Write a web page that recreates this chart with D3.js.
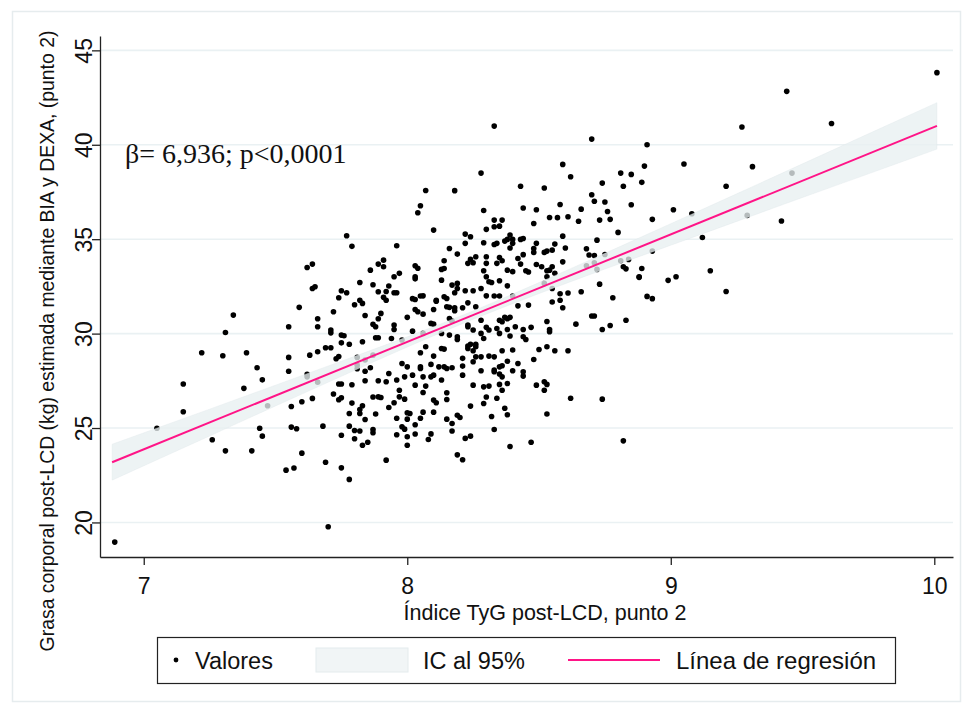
<!DOCTYPE html>
<html>
<head>
<meta charset="utf-8">
<script src="https://cdn.jsdelivr.net/npm/d3@7"></script>
<style>
  body { margin: 0; background: #fff; }
  text { font-family: "Liberation Sans", Arial, sans-serif; fill: #111; }
</style>
</head>
<body>
<div id="chart"></div>
<script>
var svgWidth = 964;
var svgHeight = 709;

var margin = { top: 36, right: 11, bottom: 152, left: 100 };
var width = svgWidth - margin.left - margin.right;
var height = svgHeight - margin.top - margin.bottom;

// axis ticks
var xTicks = [7, 8, 9, 10];
var yTicks = [20, 25, 30, 35, 40, 45];

// observed values [TyG, grasa corporal]
var valores = [
  [8.33,40.99],[8.70,40.30],[8.91,40.00],[8.59,38.96],[8.62,38.31],[8.28,38.50],[8.81,38.50],[8.85,38.43],[8.90,38.87],
  [8.07,37.58],[8.18,37.57],[8.43,37.80],[8.52,37.71],[8.74,37.97],[8.82,37.80],[8.89,38.01],[8.05,36.77],[8.04,36.40],
  [8.29,36.52],[8.44,36.65],[8.49,36.56],[8.58,36.84],[8.66,36.59],[8.70,37.35],[8.71,37.01],[8.75,36.97],[8.76,36.47],
  [8.85,36.82],[8.54,36.15],[8.57,36.14],[8.61,36.19],[8.33,36.01],[8.36,36.01],[8.65,35.95],[8.73,36.01],[8.77,36.05],[8.93,36.05],
  [10.01,43.82],[9.44,42.83],[9.61,41.13],[9.27,40.94],[9.05,38.98],[9.31,38.84],[9.46,38.50],[9.21,37.80],[9.01,36.56],
  [9.08,36.35],[9.29,36.26],[9.42,35.96],[9.12,35.09],[9.15,33.33],[8.99,32.82],[9.02,33.01],[9.21,32.23],
  [7.77,35.18],[7.79,34.62],[7.62,33.50],[7.64,33.68],[7.89,33.68],[7.86,33.36],[7.82,32.71],[7.87,32.59],[7.64,32.39],
  [7.65,32.48],[7.75,32.27],[7.74,31.90],[7.77,32.16],[7.89,32.22],[7.82,31.77],[7.83,31.60],[7.80,31.53],[7.59,31.39],
  [7.34,30.98],[7.72,31.16],[7.84,30.96],[7.66,30.79],[7.89,30.79],[7.90,31.07],[7.87,30.49],[7.88,30.36],[7.55,30.36],
  [7.66,30.36],[7.71,30.19],[7.71,30.04],[7.75,29.92],[7.76,29.89],[7.31,30.06],[7.88,29.78],[7.89,29.78],[7.83,29.57],
  [7.75,29.51],[7.78,29.44],[7.69,29.25],[7.71,29.25],[7.22,28.99],[7.30,28.83],[7.39,28.99],[7.55,28.74],[7.63,28.86],
  [7.66,29.04],[7.73,28.67],[7.74,28.79],[7.81,28.74],[7.87,28.86],[7.84,28.60],[7.43,28.19],[7.55,28.01],[7.81,28.33],
  [7.81,28.14],[7.86,28.19],[7.84,28.01],[7.45,27.55],[7.62,27.84],[7.62,27.71],[7.66,27.43],[7.15,27.33],[7.38,27.10],
  [7.74,27.33],[7.75,27.33],[7.79,27.29],[7.84,27.50],[7.89,27.50],
  [6.89,18.96],[7.05,24.99],[7.15,25.86],[7.26,24.38],[7.31,23.79],[7.41,23.79],[7.44,24.99],[7.45,24.57],[7.47,26.18],
  [7.56,26.14],[7.60,26.39],[7.64,26.57],[7.56,25.05],[7.58,24.96],[7.54,22.77],[7.57,22.88],[7.60,23.67],[7.69,23.19],
  [7.70,19.77],[7.68,25.10],[7.72,26.80],[7.74,26.50],[7.75,26.60],[7.79,26.32],[7.75,24.62],[7.75,22.89],[7.78,22.28],
  [7.78,25.77],[7.78,25.10],[7.80,24.43],[7.80,24.87],[7.82,24.84],[7.82,25.77],[7.82,25.98],[7.83,26.18],[7.84,25.45],
  [7.87,26.64],[7.88,25.74],[7.89,26.65],[7.87,24.92],[7.87,24.75],[7.83,24.09],[7.85,24.25],
  [7.90,26.62],[7.97,26.65],[7.95,26.34],[7.93,26.09],[7.99,26.53],[7.96,25.52],[8.00,25.81],[8.01,25.77],[8.00,25.47],
  [8.05,25.52],[8.06,25.84],[8.03,25.17],[7.98,25.07],[7.99,24.94],[7.96,24.64],[8.00,24.54],[8.00,24.09],[8.03,24.68],
  [8.08,24.39],[8.09,24.69],[7.92,23.30],[8.10,26.48],[8.11,26.34],[8.10,25.84],[8.15,26.51],[8.15,25.47],[8.17,25.24],
  [8.17,24.84],[8.19,25.68],[8.20,25.56],[8.24,26.16],[8.22,24.45],[8.24,24.57],[8.19,23.58],[8.21,23.32],[8.29,26.30],
  [8.30,26.64],[8.34,26.58],[8.32,25.61],[8.37,26.05],[8.38,25.70],[8.33,24.92],[8.39,24.02],[8.47,24.25],[8.53,25.74],
  [8.62,26.58],[8.74,26.53],[8.82,24.32],[7.97,27.00],[8.06,26.88],[8.15,26.87],[8.36,27.00],
  [8.33,35.66],[8.35,35.69],[8.48,35.83],[8.10,35.48],[8.22,35.27],[8.24,35.13],[7.96,34.65],[8.22,34.78],[8.30,35.52],
  [8.29,34.81],[8.33,34.72],[8.34,34.78],[8.37,34.90],[8.38,34.99],[8.39,35.22],[8.40,34.99],[8.40,34.78],[8.43,34.99],
  [8.44,35.04],[8.49,34.78],[8.48,34.51],[8.48,34.30],[8.52,34.30],[8.53,34.37],[8.56,34.74],[8.55,34.42],[8.59,35.16],
  [8.60,34.53],[8.68,34.49],[8.69,34.16],[8.71,34.14],[8.72,34.95],[8.80,35.36],[8.16,34.51],[8.19,34.21],[8.14,33.86],
  [8.14,33.45],[8.13,33.40],[7.91,33.89],[7.91,33.54],[8.03,33.59],[8.04,33.46],[8.03,33.01],[8.03,32.90],[8.24,33.93],
  [8.25,33.75],[8.23,33.72],[8.26,34.07],[8.30,34.07],[8.30,33.72],[8.34,33.72],[8.35,34.03],[8.36,33.86],[8.39,34.53],
  [8.38,33.36],[8.40,33.28],[8.42,33.98],[8.43,33.68],[8.44,34.18],[8.45,33.33],[8.46,33.26],[8.49,33.66],[8.51,33.54],
  [8.53,33.33],[8.54,33.36],[8.53,33.01],[8.55,33.54],[8.56,33.19],[8.59,33.80],[8.81,33.86],[8.82,33.54],[8.83,33.43],
  [8.89,33.45],[8.88,33.01],[8.93,34.37],[8.68,33.59],[8.71,33.75],[8.72,33.40],[8.75,34.19],[8.84,33.93],
  [7.95,33.01],[7.97,33.19],[7.93,32.52],[7.92,32.23],[7.95,32.16],[7.96,32.16],[7.91,31.92],[7.92,31.77],[8.13,32.83],
  [8.17,32.57],[8.19,32.66],[8.19,32.39],[8.18,32.16],[8.22,32.27],[8.25,32.27],[8.29,33.33],[8.30,33.01],[8.31,32.75],
  [8.32,32.71],[8.35,32.80],[8.38,32.53],[8.28,32.39],[8.30,32.00],[8.33,31.99],[8.35,31.99],[8.40,31.99],[8.52,32.66],
  [8.55,32.39],[8.58,32.11],[8.61,32.15],[8.58,31.77],[8.59,31.37],[8.55,31.67],[8.66,32.22],[8.73,32.62],[8.78,31.90],
  [8.91,31.97],[8.93,31.85],[8.88,32.98],[8.02,31.85],[8.03,31.81],[8.05,31.99],[8.06,32.00],[8.11,31.77],[8.11,31.72],
  [8.14,31.95],[8.15,31.86],[8.15,31.42],[8.16,31.39],[8.18,31.37],[8.18,31.21],[8.21,31.37],[8.23,31.63],[8.26,31.42],
  [8.10,31.28],[8.06,31.03],[8.03,31.28],[8.04,31.16],[8.00,30.86],[8.09,30.54],[8.10,30.50],[8.16,30.80],[8.17,30.66],
  [8.23,30.45],[8.23,30.36],[8.28,30.71],[8.35,30.71],[8.36,30.63],[8.37,30.86],[8.38,30.79],[8.39,30.86],[8.42,31.47],
  [8.46,31.51],[8.53,30.64],[8.54,30.22],[8.54,30.10],[8.64,30.50],[8.70,30.93],[8.71,30.93],[8.74,30.22],[8.77,30.43],
  [8.83,30.71],
  [7.95,30.45],[7.95,30.22],[8.02,30.13],[7.94,29.74],[8.06,30.01],[8.13,30.01],[8.16,29.92],[8.19,29.83],[8.19,29.69],
  [8.25,30.19],[8.28,30.01],[8.29,29.74],[8.30,30.33],[8.31,30.19],[8.34,30.27],[8.35,30.01],[8.38,30.22],[8.39,29.87],
  [8.41,30.36],[8.44,29.83],[8.45,29.69],[8.44,30.22],[8.47,30.33],[7.98,29.66],[8.07,29.30],[8.13,29.21],[8.14,29.18],
  [8.10,28.81],[8.05,28.99],[8.23,29.34],[8.24,29.44],[8.26,29.44],[8.26,29.30],[8.25,29.09],[8.23,29.21],[8.21,28.69],
  [8.25,28.51],[8.26,28.77],[8.28,28.77],[8.31,28.81],[8.33,28.77],[8.36,29.09],[8.40,29.13],[8.50,29.16],[8.53,29.30],
  [8.56,29.09],[8.61,29.09],[8.48,28.63],[8.38,28.54],[8.42,28.42],[8.35,28.24],[8.36,28.30],[8.33,28.07],[8.21,28.28],
  [8.14,28.24],[8.15,28.15],[8.17,28.19],[8.12,28.24],[8.09,28.37],[8.05,28.15],[8.05,28.24],[8.00,28.24],[7.98,28.42],
  [7.93,27.89],[8.02,27.80],[8.06,27.71],[8.09,27.71],[8.10,27.80],[8.13,27.54],[8.21,27.80],[8.28,28.03],[8.33,27.98],
  [8.35,27.86],[8.36,27.71],[8.40,28.03],[8.44,27.98],[8.44,27.75],[8.49,27.27],[8.52,27.45],[8.53,27.31],[8.52,27.00],
  [8.25,27.27],[8.29,27.18],[8.31,27.22],[8.35,27.31],[8.38,27.36],[7.92,27.45],[8.03,27.27],[8.07,27.22],[7.99,27.71],
  [7.96,27.54]
];

// fitted line, read at its two ends
var regX = [6.88, 10.01];
var regY = [23.19, 41.00];

// 95% confidence band, read along x
var ciX  = [6.88, 7.25, 7.50, 7.75, 8.00, 8.25, 8.50, 8.75, 9.00, 9.25, 9.50, 9.75, 10.01];
var ciLo = [22.24, 24.58, 26.17, 27.74, 29.29, 30.76, 32.12, 33.42, 34.68, 35.94, 37.21, 38.46, 39.77];
var ciHi = [24.14, 26.00, 27.27, 28.54, 29.83, 31.20, 32.70, 34.25, 35.82, 37.40, 38.99, 40.58, 42.23];

var svg = d3.select("#chart")
  .append("svg")
  .attr("width", svgWidth)
  .attr("height", svgHeight);

// faint outer frame of the graph region
svg.append("rect")
  .attr("x", 12.5)
  .attr("y", 11.5)
  .attr("width", 948)
  .attr("height", 690)
  .attr("fill", "none")
  .attr("stroke", "#e6ecee")
  .attr("stroke-width", 1.5);

var g = svg.append("g")
  .attr("transform", `translate(${margin.left}, ${margin.top})`);

var xScale = d3.scaleLinear().domain([6.834, 10.071]).range([0, width]);
var yScale = d3.scaleLinear().domain([18.17, 45.76]).range([height, 0]);

// horizontal grid
g.append("g")
  .selectAll("line")
  .data(yTicks)
  .enter()
  .append("line")
  .attr("x1", 0)
  .attr("x2", width)
  .attr("y1", d => yScale(d))
  .attr("y2", d => yScale(d))
  .attr("stroke", "#eaf1f3")
  .attr("stroke-width", 1.6);

// points
g.append("g")
  .selectAll("circle")
  .data(valores)
  .enter()
  .append("circle")
  .attr("cx", d => xScale(d[0]))
  .attr("cy", d => yScale(d[1]))
  .attr("r", 2.8)
  .attr("fill", "#000");

// CI band over the points (semi transparent, as in Stata)
var band = d3.area()
  .x((d, i) => xScale(ciX[i]))
  .y0((d, i) => yScale(ciLo[i]))
  .y1((d, i) => yScale(ciHi[i]))
  .curve(d3.curveMonotoneX);

g.append("path")
  .datum(ciX)
  .attr("d", band)
  .attr("fill", "#e8eff1")
  .attr("fill-opacity", 0.78)
  .attr("stroke", "#dde6e8")
  .attr("stroke-opacity", 0.6)
  .attr("stroke-width", 0.6);

// regression line
g.append("line")
  .attr("x1", xScale(regX[0]))
  .attr("y1", yScale(regY[0]))
  .attr("x2", xScale(regX[1]))
  .attr("y2", yScale(regY[1]))
  .attr("stroke", "#ff1487")
  .attr("stroke-width", 2);

// axes
var bottomAxis = d3.axisBottom(xScale)
  .tickValues(xTicks)
  .tickFormat(d3.format("d"))
  .tickSize(8)
  .tickSizeOuter(0);

var leftAxis = d3.axisLeft(yScale)
  .tickValues(yTicks)
  .tickFormat(d3.format("d"))
  .tickSize(8)
  .tickSizeOuter(0);

var xAxis = g.append("g")
  .attr("transform", `translate(0, ${height})`)
  .call(bottomAxis);

xAxis.selectAll("text")
  .attr("dy", null)
  .attr("y", 37)
  .style("font-size", "23px")
  .attr("fill", "#111");

var yAxis = g.append("g")
  .call(leftAxis);

yAxis.selectAll("text")
  .attr("transform", "rotate(-90)")
  .attr("text-anchor", "middle")
  .attr("dy", null)
  .attr("x", 0)
  .attr("y", -8)
  .style("font-size", "23px")
  .attr("fill", "#111");

[xAxis, yAxis].forEach(function(ax) {
  ax.select(".domain").attr("stroke", "#222").attr("stroke-width", 1.3);
  ax.selectAll(".tick line").attr("stroke", "#222").attr("stroke-width", 1.3);
});

// axis titles
svg.append("text")
  .attr("x", 545)
  .attr("y", 620)
  .attr("text-anchor", "middle")
  .style("font-size", "21.5px")
  .text("Índice TyG post-LCD, punto 2");

svg.append("text")
  .attr("transform", "translate(54, 341) rotate(-90)")
  .attr("text-anchor", "middle")
  .style("font-size", "19.4px")
  .text("Grasa corporal post-LCD (kg) estimada mediante BIA y DEXA, (punto 2)");

// coefficient note
svg.append("text")
  .attr("x", 125)
  .attr("y", 163)
  .style("font-family", "Liberation Serif, 'Times New Roman', serif")
  .style("font-size", "28px")
  .text("β= 6,936; p<0,0001");

// legend
var legend = svg.append("g");

legend.append("rect")
  .attr("x", 157.5)
  .attr("y", 637.5)
  .attr("width", 738)
  .attr("height", 46)
  .attr("fill", "#fff")
  .attr("stroke", "#222")
  .attr("stroke-width", 1.2);

legend.append("circle")
  .attr("cx", 176)
  .attr("cy", 660)
  .attr("r", 2.4)
  .attr("fill", "#000");

legend.append("text")
  .attr("x", 195)
  .attr("y", 669)
  .style("font-size", "23.5px")
  .text("Valores");

legend.append("rect")
  .attr("x", 316)
  .attr("y", 648)
  .attr("width", 92)
  .attr("height", 24)
  .attr("fill", "#f1f5f6")
  .attr("stroke", "#e4ebed");

legend.append("text")
  .attr("x", 423)
  .attr("y", 669)
  .style("font-size", "23.5px")
  .text("IC al 95%");

legend.append("line")
  .attr("x1", 568)
  .attr("x2", 660)
  .attr("y1", 660)
  .attr("y2", 660)
  .attr("stroke", "#ff1487")
  .attr("stroke-width", 2);

legend.append("text")
  .attr("x", 676)
  .attr("y", 669)
  .style("font-size", "24px")
  .text("Línea de regresión");
</script>
</body>
</html>
